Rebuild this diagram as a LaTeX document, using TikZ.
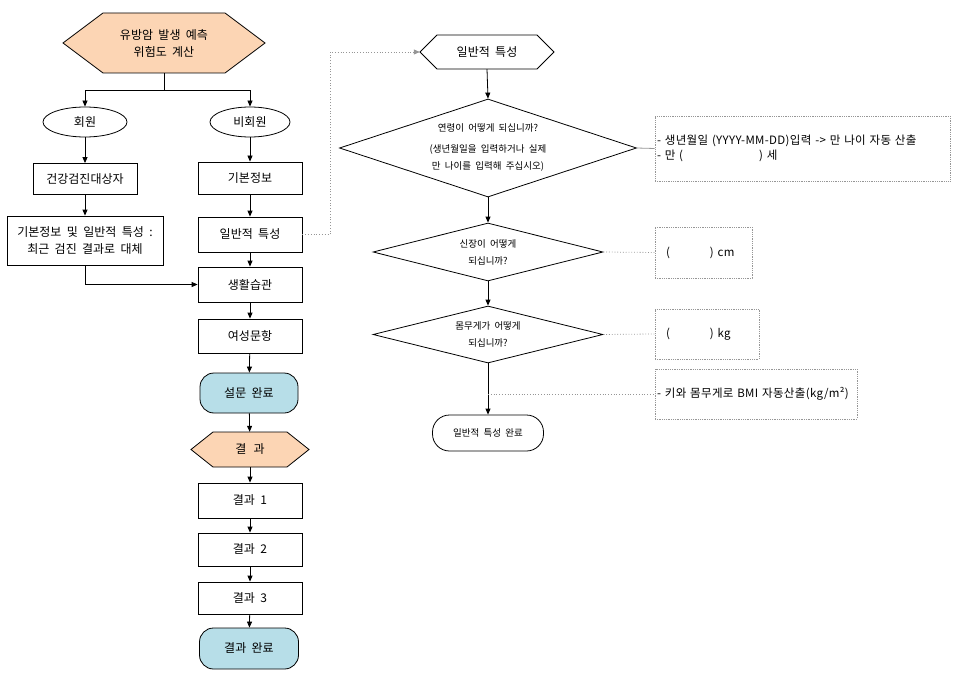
\documentclass[tikz,border=0pt]{standalone}
\usepackage{fontspec}
\setmainfont[WordSpace=2]{Noto Sans CJK KR}
\newfontfamily\infofont[WordSpace=2,LetterSpace=3]{Noto Sans CJK KR}
\usetikzlibrary{arrows.meta,shapes.geometric,calc}
\definecolor{hexorange}{RGB}{252,213,180}
\definecolor{termblue}{RGB}{183,222,232}
\definecolor{lgray}{RGB}{150,150,150}
\tikzset{
  big/.style={font=\fontsize{12bp}{17bp}\selectfont},
  small/.style={font=\fontsize{9.5bp}{17bp}\selectfont},
  info/.style={font=\infofont\fontsize{11.5bp}{15bp}\selectfont},
  box/.style={draw, line width=0.8bp, fill=white, align=center, inner sep=0pt, big},
  colbox/.style={box, minimum width=104bp},
  ell/.style={ellipse, draw, line width=0.8bp, fill=white, inner sep=0pt, big},
  term/.style={draw, line width=0.8bp, rounded corners=14bp, inner sep=0pt, big},
  dia/.style={diamond, draw, line width=0.8bp, inner sep=0pt, align=center, small},
  hexlabel/.style={align=center, inner sep=0pt, big},
  infobox/.style={draw=lgray, densely dotted, line width=0.8bp, inner sep=0pt, align=left, info},
  arr/.style={line width=0.8bp, -{Triangle[length=6bp,width=5bp]}},
  plain/.style={line width=0.8bp},
  dotline/.style={draw=lgray, dotted, line width=0.8bp},
  grayline/.style={draw=lgray, line width=0.8bp},
}
\newcommand{\hexag}[8]{%
  \filldraw[fill=#7, line width=0.8bp] (#2-#4/2,#3) -- (#2-#4/2+#6,#3-#5/2) -- (#2+#4/2-#6,#3-#5/2) -- (#2+#4/2,#3) -- (#2+#4/2-#6,#3+#5/2) -- (#2-#4/2+#6,#3+#5/2) -- cycle;
  \node[hexlabel, minimum width=#4bp, minimum height=#5bp] (#1) at (#2,#3) {#8};
}
\begin{document}
\begin{tikzpicture}[x=1bp,y=-1bp]
\useasboundingbox (0,0) rectangle (969,683);
% left part
\hexag{top}{164}{43}{202}{60}{40}{hexorange}{유방암 발생 예측\\위험도 계산}
\coordinate (split) at (164,90);
\node[ell, minimum width=84bp, minimum height=30bp] (mem) at (85,122) {회원};
\node[ell, minimum width=80bp, minimum height=30bp] (non) at (250,122) {비회원};
\node[box, minimum width=104bp, minimum height=31bp] (hc) at (85,179) {건강검진대상자};
\node[box, minimum width=156bp, minimum height=49bp] (basic1) at (85,240.5) {기본정보 및 일반적 특성 :\\최근 검진 결과로 대체};
\node[colbox, minimum height=32bp] (basic2) at (250,178) {기본정보};
\node[colbox, minimum height=35bp] (gen) at (250,234.5) {일반적 특성};
\node[colbox, minimum height=35bp] (life) at (250,284.5) {생활습관};
\node[colbox, minimum height=34bp] (fem) at (250,336) {여성문항};
\node[term, fill=termblue, minimum width=98bp, minimum height=40bp] (done) at (249,393) {설문 완료};
\hexag{reshex}{250}{449.5}{118}{35}{22}{hexorange}{결\hspace{0.6em}과}
\node[colbox, minimum height=35bp] (r1) at (250,500.5) {결과 1};
\node[colbox, minimum height=33bp] (r2) at (250,549.5) {결과 2};
\node[colbox, minimum height=32bp] (r3) at (250,598) {결과 3};
\node[term, fill=termblue, minimum width=99bp, minimum height=41bp] (rdone) at (249,648.5) {결과 완료};

\draw[plain] (top.south) -- (split);
\draw[arr] (split) -| (mem.north);
\draw[arr] (split) -| (non.north);
\draw[arr] (mem.south) -- (hc.north);
\draw[arr] (hc.south) -- (basic1.north);
\draw[arr] (basic1.south) |- (life.west);
\draw[arr] (non.south) -- (basic2.north);
\draw[arr] (basic2) -- (gen);
\draw[arr] (gen) -- (life);
\draw[arr] (life) -- (fem);
\draw[arr] (fem) -- (done);
\draw[arr] (done) -- (reshex);
\draw[arr] (reshex) -- (r1);
\draw[arr] (r1) -- (r2);
\draw[arr] (r2) -- (r3);
\draw[arr] (r3) -- (rdone);

% right part
\hexag{ghex}{487}{52}{134}{34}{17}{white}{일반적 특성}
\coordinate (bend) at (330,52);
\draw[dotline, -{Triangle[length=6bp,width=5bp]}] (gen.east) -| (bend) -- (ghex.west);
\node[dia, aspect=3.03, inner sep=-2bp, minimum width=297bp, minimum height=98bp] (d1) at (488,148) {연령이 어떻게 되십니까?\\[4bp](생년월일을 입력하거나 실제\\만 나이를 입력해 주십시오)};
\node[dia, aspect=3.97, minimum width=230bp, minimum height=58bp] (d2) at (488,252) {신장이 어떻게\\되십니까?};
\node[dia, aspect=4.03, minimum width=230bp, minimum height=57bp] (d3) at (488,334.5) {몸무게가 어떻게\\되십니까?};
\node[term, fill=white, small, rounded corners=17bp, minimum width=111bp, minimum height=36bp] (gdone) at (488,433) {일반적 특성 완료};
\coordinate (bmij) at (488,394);
\draw[arr] (ghex.south) -- (d1.north);
\draw[arr] (d1.south) -- (d2.north);
\draw[arr] (d2.south) -- (d3.north);
\draw[arr] (d3.south) -- (gdone.north);

\node[infobox, minimum width=295bp, minimum height=65bp, text width=291bp] (i1) at (802.5,148.5) {- 생년월일 (YYYY-MM-DD)입력 -> 만 나이 자동 산출\\- 만 (\hspace{76bp}) 세};
\node[infobox, minimum width=97bp, minimum height=51bp, text width=93bp] (i2) at (703.5,252.5) {\hspace*{9bp}(\hspace{40bp}) cm};
\node[infobox, minimum width=104bp, minimum height=50bp, text width=100bp] (i3) at (707,334) {\hspace*{9bp}(\hspace{40bp}) kg};
\node[infobox, minimum width=202bp, minimum height=50bp, text width=198bp] (i4) at (756,394) {- 키와 몸무게로 BMI 자동산출(kg/m²)};

\draw[grayline] (d1.east) -- (i1.west);
\draw[dotline] (d2.east) -- (i2.west);
\draw[dotline] (d3.east) -- (i3.west);
\draw[dotline] (bmij) -- (i4.west);
\end{tikzpicture}
\end{document}
